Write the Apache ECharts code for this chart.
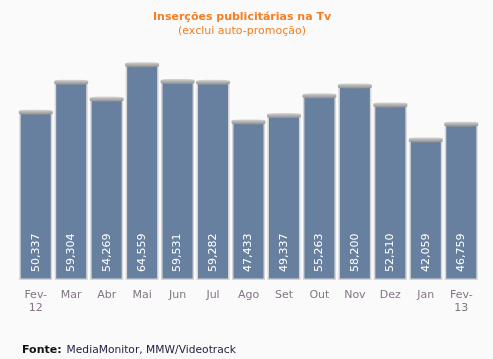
<!DOCTYPE html>
<html><head><meta charset="utf-8">
<script src="https://cdn.jsdelivr.net/npm/echarts@6/dist/echarts.min.js"></script>
<style>html,body{margin:0;padding:0;background:#fafafa}#c{width:493px;height:359px}</style>
</head><body><div id="c"></div>
<script>
const categories = ['Fev-\n12','Mar','Abr','Mai','Jun','Jul','Ago','Set','Out','Nov','Dez','Jan','Fev-\n13'];
const values = [50337,59304,54269,64559,59531,59282,47433,49337,55263,58200,52510,42059,46759];
const titleText = 'Inserções publicitárias na Tv';
const subtitleText = '(exclui auto-promoção)';
const sourceLabel = 'Fonte:';
const sourceText = 'MediaMonitor, MMW/Videotrack';

const chart = echarts.init(document.getElementById('c'), null, {renderer:'canvas'});
chart.setOption({
  backgroundColor: '#fafafa',
  animation: false,
  title: [
    {text: titleText, left: 153, top: 12, padding: 0,
     textStyle: {fontFamily: 'DejaVu Sans', fontSize: 11, fontWeight: 'bold', color: '#f57d22'}},
    {text: subtitleText, left: 178, top: 26, padding: 0,
     textStyle: {fontFamily: 'DejaVu Sans', fontSize: 11, fontWeight: 'normal', color: '#f57d22'}},
    {text: '{b|' + sourceLabel + '} {n|' + sourceText + '}', left: 22, top: 341, padding: 0,
     textStyle: {fontWeight: 'normal', rich: {
       b: {fontFamily: 'DejaVu Sans', fontSize: 11, fontWeight: 'bold', color: '#111111'},
       n: {fontFamily: 'DejaVu Sans', fontSize: 10.7, fontWeight: 'normal', color: '#1c1c3c'}
     }}}
  ],
  grid: {left: 18, right: 14, top: 46, bottom: 79},
  xAxis: {
    type: 'category', data: categories,
    axisLine: {show: false}, axisTick: {show: false},
    axisLabel: {fontFamily: 'DejaVu Sans', fontSize: 11, color: '#837585', margin: 9, lineHeight: 13}
  },
  yAxis: {type: 'value', min: 0, max: 70000, show: false, splitLine: {show: false}},
  series: [{
    type: 'bar', data: values, barWidth: 33, z: 2,
    itemStyle: {color: '#67809f', borderColor: '#d6d6d6', borderWidth: 1.5},
    label: {
      show: true, position: 'insideBottom', rotate: 90, align: 'left', verticalAlign: 'middle',
      distance: 8, color: '#ffffff', fontFamily: 'DejaVu Sans', fontSize: 11,
      formatter: p => p.value.toLocaleString('en-US')
    }
  }, {
    type: 'pictorialBar', data: values, z: 3,
    symbol: 'roundRect', symbolSize: [34, 5], symbolPosition: 'end', symbolOffset: [0, '-40%'],
    itemStyle: {color: new echarts.graphic.LinearGradient(0, 0, 0, 1, [
      {offset: 0, color: '#d8d8d8'}, {offset: 0.5, color: '#b0b0b0'}, {offset: 1, color: '#8e8e8e'}])},
    silent: true
  }]
});
</script></body></html>
